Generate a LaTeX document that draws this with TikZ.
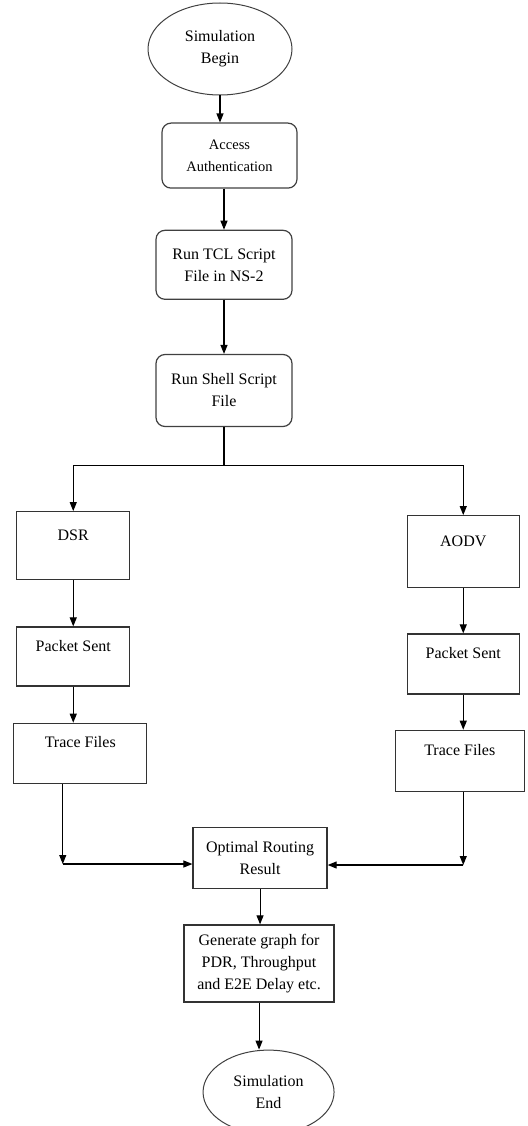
\documentclass[tikz,border=0pt]{standalone}
\usepackage{fontspec}
\setmainfont{Liberation Serif}
\usetikzlibrary{positioning,shapes.geometric,arrows.meta}

\begin{document}
\begin{tikzpicture}[x=1pt,y=-1pt,
  every node/.style={font=\fontsize{16}{22}\selectfont, align=center, inner sep=2pt},
  terminal/.style={ellipse, draw=black!75, line width=1pt},
  roundbox/.style={rectangle, rounded corners=9pt, draw=black!75, line width=1.2pt},
  plainbox/.style={rectangle, draw=black!80, line width=1.3pt},
  arr/.style={-{Triangle[length=9pt,width=7pt]}, line width=1.1pt},
  link/.style={line width=1.1pt}]
 \useasboundingbox (0,0) rectangle (527,1126);
 % main chain
 \node [terminal, minimum width=144pt, minimum height=92pt] (simBegin) at (220,49) {Simulation\\Begin};
 \node [roundbox, minimum width=135pt, minimum height=65pt, below=27pt of simBegin, xshift=9.5pt,
        font=\fontsize{14.5}{22}\selectfont] (access) {Access\\Authentication};
 \node [roundbox, minimum width=136pt, minimum height=69pt, below=41pt of access, xshift=-5.5pt] (tcl) {Run TCL Script\\File in NS-2};
 \node [roundbox, minimum width=136pt, minimum height=72pt, below=54pt of tcl] (shell) {Run Shell Script\\File};
 % two protocols
 \node [plainbox, minimum width=113pt, minimum height=68pt, below left=84pt and 25pt of shell] (dsr) {DSR\\\mbox{}};
 \node [plainbox, minimum width=112pt, minimum height=72pt, below right=88pt and 114pt of shell] (aodv) {AODV\\\mbox{}};
 \node [plainbox, minimum width=113pt, minimum height=59pt, below=46pt of dsr] (pktL) {Packet Sent\\\mbox{}};
 \node [plainbox, minimum width=133pt, minimum height=60pt, below=36pt of pktL, xshift=7pt] (traceL) {Trace Files\\\mbox{}};
 \node [plainbox, minimum width=112pt, minimum height=60pt, below=45pt of aodv] (pktR) {Packet Sent\\\mbox{}};
 \node [plainbox, minimum width=129pt, minimum height=61pt, below=35pt of pktR, xshift=-3.5pt] (traceR) {Trace Files\\\mbox{}};
 % results
 \node [plainbox, minimum width=134pt, minimum height=61pt, below right=43pt and 45pt of traceL] (opt) {Optimal Routing\\Result};
 \node [plainbox, minimum width=150pt, minimum height=77pt, below=35pt of opt, xshift=-1pt] (gen) {Generate graph for\\PDR, Throughput\\and E2E Delay etc.};
 \node [terminal, minimum width=131pt, minimum height=84pt, below=47pt of gen, xshift=9.5pt] (simEnd) {Simulation\\End};

 \draw [arr] (simBegin) -- (simBegin |- access.north);
 \draw [arr] (tcl |- access.south) -- (tcl);
 \draw [arr] (tcl) -- (shell);
 \coordinate [below=38pt of shell] (split);
 \draw [link] (shell) -- (split);
 \draw [arr] (split) -| (dsr);
 \draw [arr] (split) -| (aodv);
 \draw [arr] (dsr) -- (pktL);
 \draw [arr] (pktL) -- (pktL |- traceL.north);
 \draw [arr] (aodv) -- (pktR);
 \draw [arr] (pktR) -- (pktR |- traceR.north);
 \coordinate [below=80pt of traceL.south, xshift=-17.5pt] (jL);
 \draw [arr] (traceL.south -| jL) -- (jL);
 \draw [arr] (jL) -- (jL -| opt.west);
 \coordinate [below=73pt of traceR.south, xshift=3.5pt] (jR);
 \draw [arr] (traceR.south -| jR) -- (jR);
 \draw [arr] (jR) -- (jR -| opt.east);
 \draw [arr] (opt) -- (opt.south |- gen.north);
 \draw [arr] (gen.south) -- (gen.south |- simEnd.north);
\end{tikzpicture}
\end{document}
